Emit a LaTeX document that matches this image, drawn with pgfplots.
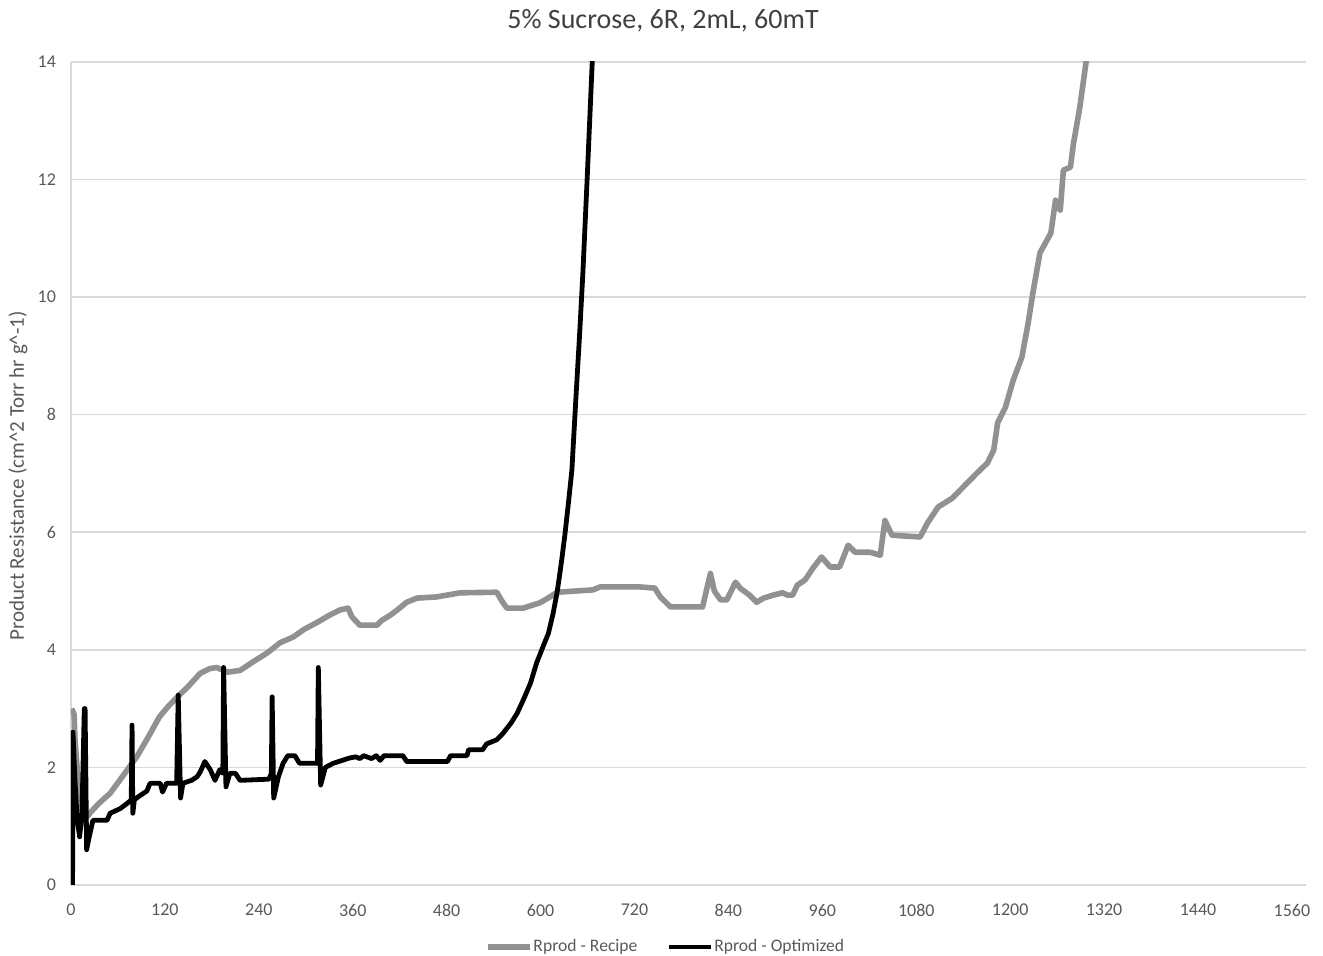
\documentclass[border=0pt]{standalone}
\usepackage{pgfplots}
\pgfplotsset{compat=1.18}
\usepackage{fontspec}
\setmainfont{Carlito}
\definecolor{recipe}{RGB}{145,145,145}
\definecolor{optim}{RGB}{0,0,0}
\definecolor{gridc}{RGB}{217,217,217}
\definecolor{txt}{RGB}{89,89,89}
\definecolor{ttl}{RGB}{64,64,64}
\begin{document}
\begin{tikzpicture}
\path[use as bounding box] (-35.5pt,-35.5pt) rectangle (626pt,442.5pt);
\begin{axis}[
  scale only axis, width=617.5pt, height=411.5pt,
  at={(0,0)}, anchor=south west,
  xmin=0, xmax=1578, ymin=0, ymax=14,
  xtick={0,120,...,1560}, ytick={0,2,...,14},
  axis x line*=bottom, axis y line*=left,
  axis line style={draw=gridc, line width=0.8pt},
  major tick length=0pt,
  ymajorgrids, grid style={draw=gridc, line width=0.8pt},
  tick label style={font=\fontsize{9}{10}\selectfont, text=txt},
  /pgf/number format/assume math mode=true,
  /pgf/number format/1000 sep={},
  xticklabel style={yshift=-6pt},
  yticklabel style={xshift=-4pt},
  clip=true,
  legend columns=2,
  legend style={at={(297pt,-31pt)}, anchor=center, draw=none, fill=none,
    font=\fontsize{8.8}{10}\selectfont, text=txt,
    /tikz/every even column/.append style={column sep=14pt},
    nodes={inner xsep=0.5pt},
    inner sep=0pt},
  legend image code/.code={\draw[#1] (0pt,0pt) -- (21pt,0pt);},
]
\addplot[recipe, line width=2.8pt, line join=round] coordinates {
(1,3.0)(4,2.9)(5,2.5)(10,1.6)(15,1.3)(20,1.15)(24,1.22)(35,1.38)(50,1.56)(66,1.85)(84,2.18)(98,2.5)(113,2.86)(125,3.05)(136,3.2)(150,3.38)(165,3.6)(177,3.68)(186,3.7)(200,3.62)(216,3.65)(233,3.8)(251,3.95)(267,4.12)(284,4.22)(298,4.35)(315,4.47)(329,4.58)(344,4.68)(354,4.71)(359,4.56)(369,4.42)(391,4.42)(397,4.5)(408,4.59)(417,4.68)(429,4.81)(442,4.88)(467,4.9)(497,4.97)(544,4.98)(552,4.8)(557,4.71)(578,4.71)(599,4.8)(612,4.9)(621,4.98)(667,5.02)(676,5.07)(727,5.07)(746,5.05)(753,4.9)(766,4.73)(807,4.73)(817,5.3)(822,5.0)(830,4.85)(838,4.85)(849,5.15)(855,5.05)(867,4.93)(876,4.81)(885,4.88)(897,4.93)(909,4.97)(916,4.93)(922,4.93)(928,5.1)(938,5.19)(948,5.39)(959,5.58)(970,5.41)(982,5.41)(993,5.78)(1002,5.66)(1021,5.66)(1034,5.61)(1040,6.2)(1049,5.95)(1085,5.92)(1094,6.15)(1108,6.43)(1126,6.58)(1140,6.77)(1157,7.0)(1171,7.18)(1179,7.4)(1184,7.86)(1194,8.13)(1204,8.59)(1215,8.98)(1223,9.56)(1229,10.07)(1238,10.75)(1252,11.09)(1258,11.65)(1264,11.48)(1268,12.16)(1277,12.21)(1281,12.62)(1289,13.23)(1297,14.0)(1299,14.4)
};
\addlegendentry{Rprod - Recipe}
\addplot[optim, line width=2.4pt, line join=round] coordinates {
(2,0)(2.5,2.6)(5,1.8)(8,1.1)(11,0.82)(14,1.2)(17,3.0)(18,3.0)(20,0.6)(23,0.8)(28,1.1)(46,1.1)(50,1.22)(63,1.3)(73,1.4)(77,1.45)(78,2.72)(79,1.22)(81,1.45)(86,1.5)(97,1.6)(101,1.73)(114,1.73)(117,1.58)(122,1.73)(135,1.73)(137,3.23)(140,1.48)(143,1.73)(154,1.78)(161,1.84)(165,1.92)(171,2.1)(178,1.96)(184,1.78)(190,1.96)(194,1.9)(195,3.7)(198,1.67)(203,1.9)(210,1.9)(216,1.78)(253,1.8)(256,1.9)(257,3.2)(259,1.48)(265,1.84)(271,2.07)(277,2.2)(286,2.2)(292,2.07)(315,2.07)(316,3.7)(319,1.7)(325,2.0)(335,2.07)(356,2.16)(364,2.18)(369,2.15)(374,2.2)(384,2.15)(390,2.2)(395,2.12)(400,2.2)(424,2.2)(429,2.1)(481,2.1)(485,2.2)(506,2.2)(508,2.3)(526,2.3)(531,2.4)(544,2.47)(552,2.58)(562,2.75)(570,2.92)(578,3.15)(587,3.43)(595,3.78)(603,4.05)(610,4.28)(616,4.62)(621,4.97)(624,5.24)(627,5.53)(631,5.95)(636,6.55)(640,7.06)(645,8.25)(650,9.4)(654,10.4)(660,12.16)(666,14)(667,14.4)
};
\addlegendentry{Rprod - Optimized}
\end{axis}
\node[text=ttl, font=\fontsize{14}{16}\selectfont] at (296pt,432pt) {5\% Sucrose, 6R, 2mL, 60mT};
\node[text=txt, rotate=90, font=\fontsize{10.5}{12}\selectfont] at (-26.5pt,204.5pt) {Product Resistance (cm\textasciicircum 2 Torr hr g\textasciicircum -1)};
\end{tikzpicture}
\end{document}
